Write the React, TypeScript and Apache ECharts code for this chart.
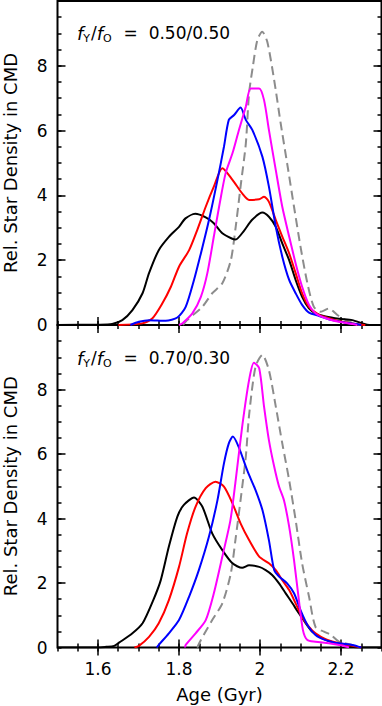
import React, { useEffect, useRef } from "react";
import * as echarts from "echarts";

// ---------- data ----------
const xTicksMajor = [1.6, 1.8, 2.0, 2.2];
const yTicksMajor = [2, 4, 6, 8];
const yLabels = [0, 2, 4, 6, 8];
const seriesNames = ["gray", "black", "red", "blue", "magenta"];
const panelLabels = ["0.50/0.50", "0.70/0.30"];

// Top panel  fY/fO = 0.50/0.50
const black1 = [[1.5,0],[1.6,0.01],[1.635,0.03],[1.66,0.15],[1.685,0.46],[1.71,0.98],[1.726,1.6],[1.75,2.31],[1.775,2.72],[1.8,3.03],[1.816,3.29],[1.84,3.43],[1.866,3.32],[1.886,3.14],[1.907,2.83],[1.93,2.67],[1.94,2.64],[1.96,2.9],[1.98,3.24],[2.006,3.47],[2.022,3.34],[2.039,3.03],[2.055,2.52],[2.072,2.0],[2.088,1.39],[2.104,0.87],[2.121,0.51],[2.137,0.36],[2.162,0.26],[2.195,0.19],[2.228,0.15],[2.253,0.05],[2.27,0],[2.3,0]];
const red1 = [[1.65,0],[1.709,0.05],[1.734,0.2],[1.759,0.67],[1.78,1.18],[1.8,1.8],[1.825,2.31],[1.845,2.93],[1.866,3.65],[1.886,4.27],[1.907,4.84],[1.932,4.48],[1.956,4.06],[1.973,3.86],[1.998,3.88],[2.01,3.96],[2.022,3.8],[2.039,3.24],[2.055,2.73],[2.072,2.21],[2.088,1.6],[2.104,0.98],[2.121,0.56],[2.146,0.31],[2.17,0.21],[2.203,0.1],[2.236,0.03],[2.26,0]];
const blue1 = [[1.68,0],[1.701,0.1],[1.726,0.15],[1.767,0.13],[1.796,0.23],[1.8165,0.56],[1.837,1.39],[1.854,2.21],[1.874,3.24],[1.895,4.48],[1.911,5.5],[1.923,6.33],[1.936,6.48],[1.952,6.71],[1.965,6.33],[1.981,6.02],[2.006,5.19],[2.022,4.27],[2.039,3.03],[2.055,2.11],[2.072,1.39],[2.088,0.98],[2.104,0.62],[2.121,0.38],[2.146,0.28],[2.178,0.15],[2.212,0.07],[2.236,0.03],[2.25,0]];
const magenta1 = [[1.8,0],[1.808,0.05],[1.833,0.36],[1.854,0.87],[1.87,1.6],[1.886,2.73],[1.899,3.65],[1.915,4.68],[1.932,5.3],[1.948,6.02],[1.965,6.74],[1.977,7.3],[1.998,7.3],[2.01,6.94],[2.022,6.02],[2.039,4.78],[2.055,3.65],[2.072,2.73],[2.088,1.9],[2.104,1.18],[2.121,0.62],[2.137,0.36],[2.162,0.21],[2.195,0.1],[2.228,0.03],[2.24,0]];
const gray1 = [[1.81,0],[1.82,0.15],[1.8575,0.56],[1.882,0.98],[1.907,1.29],[1.928,2.0],[1.94,3.03],[1.952,4.27],[1.965,5.6],[1.973,7.15],[1.982,7.95],[1.9935,8.8],[2.0056,9.05],[2.018,8.74],[2.035,7.56],[2.051,6.23],[2.067,4.99],[2.084,3.65],[2.1,2.42],[2.117,1.29],[2.133,0.56],[2.15,0.41],[2.17,0.51],[2.191,0.31],[2.212,0.15],[2.236,0.03],[2.25,0]];

// Bottom panel  fY/fO = 0.70/0.30
const black2 = [[1.5,0],[1.6,0],[1.62,0.02],[1.64,0.05],[1.652,0.15],[1.685,0.44],[1.71,0.75],[1.7365,1.47],[1.755,2.09],[1.775,3.13],[1.796,4.06],[1.812,4.42],[1.837,4.65],[1.8575,4.37],[1.882,3.54],[1.907,3.02],[1.932,2.61],[1.956,2.47],[1.973,2.55],[1.998,2.5],[2.014,2.4],[2.03,2.25],[2.047,1.99],[2.0635,1.68],[2.08,1.37],[2.096,1.06],[2.113,0.75],[2.129,0.49],[2.154,0.28],[2.187,0.13],[2.22,0.05],[2.24,0],[2.3,0]];
const red2 = [[1.69,0],[1.701,0.05],[1.726,0.33],[1.75,0.75],[1.775,1.47],[1.8,2.5],[1.82,3.54],[1.841,4.37],[1.866,4.94],[1.89,5.14],[1.911,4.99],[1.932,4.47],[1.952,3.85],[1.973,3.33],[1.998,2.82],[2.022,2.61],[2.039,2.4],[2.055,2.09],[2.072,1.78],[2.088,1.37],[2.104,0.95],[2.121,0.64],[2.137,0.44],[2.162,0.26],[2.195,0.13],[2.228,0.05],[2.25,0]];
const blue2 = [[1.745,0],[1.75,0.08],[1.775,0.44],[1.8,0.85],[1.825,1.58],[1.849,2.4],[1.874,3.44],[1.895,4.57],[1.911,5.71],[1.923,6.33],[1.933,6.54],[1.948,6.2],[1.965,5.61],[1.973,5.35],[1.989,4.88],[2.006,4.26],[2.022,3.33],[2.035,2.4],[2.047,2.2],[2.067,1.99],[2.084,1.68],[2.1,1.16],[2.117,0.7],[2.137,0.39],[2.162,0.23],[2.195,0.13],[2.228,0.08],[2.25,0]];
const magenta2 = [[1.815,0],[1.8165,0.08],[1.841,0.44],[1.866,0.85],[1.886,1.68],[1.907,2.82],[1.927,3.95],[1.94,5.19],[1.956,6.85],[1.973,8.29],[1.985,8.83],[1.998,8.66],[2.01,7.47],[2.022,6.43],[2.035,5.61],[2.047,4.99],[2.059,4.57],[2.072,3.75],[2.084,2.71],[2.096,1.47],[2.106,0.54],[2.117,0.23],[2.137,0.18],[2.17,0.13],[2.203,0.06],[2.22,0]];
const gray2 = [[1.845,0],[1.854,0.23],[1.882,0.85],[1.907,1.37],[1.928,2.3],[1.94,3.4],[1.952,4.57],[1.965,5.92],[1.973,7.2],[1.989,8.71],[2.006,9.07],[2.022,8.6],[2.039,7.47],[2.055,6.33],[2.072,5.19],[2.088,3.95],[2.104,2.61],[2.121,1.58],[2.137,0.64],[2.158,0.49],[2.175,0.39],[2.195,0.18],[2.228,0.08],[2.24,0]];

const panels = [
  [gray1, black1, red1, blue1, magenta1],
  [gray2, black2, red2, blue2, magenta2],
];

const COLORS: Record<string, string> = {
  gray: "#8c8c8c",
  black: "#000000",
  red: "#ff0000",
  blue: "#0000ff",
  magenta: "#ff00ff",
};

const FONT = "DejaVu Sans";

const isIn = (v: number, list: number[]) => list.some((t) => Math.abs(t - v) < 1e-6);

export default function App() {
  const ref = useRef<HTMLDivElement>(null);
  useEffect(() => {
    if (!ref.current) return;
    const chart = echarts.init(ref.current, null, { renderer: "svg" });
    const grids = [
      { left: 57.5, right: 0.5, top: 1, height: 324 },
      { left: 57.5, right: 0.5, top: 325, height: 322.5 },
    ].map((g) => ({
      ...g, show: true, borderColor: "#000", borderWidth: 2, backgroundColor: "transparent",
      containLabel: false, outerBoundsMode: "none",
    }));

    const xAxes: any[] = [];
    const yAxes: any[] = [];
    const tickStyle = { color: "#000", width: 1.5 };
    for (let p = 0; p < 2; p++) {
      const baseX = {
        gridIndex: p, type: "value", min: 1.5, max: 2.3, interval: 0.05,
        axisLine: { show: false }, splitLine: { show: false },
      };
      // bottom minor (+labels), bottom major, top minor, top major
      xAxes.push({
        ...baseX, position: "bottom",
        axisTick: { inside: true, length: 4, lineStyle: tickStyle },
        axisLabel: p === 1
          ? {
              show: true, color: "#000", fontSize: 17, fontFamily: FONT, margin: 13,
              showMinLabel: false, showMaxLabel: false, interval: 0,
              formatter: (v: number) => (isIn(v, xTicksMajor) ? String(+v.toFixed(2)) : ""),
            }
          : { show: false },
        name: p === 1 ? "Age (Gyr)" : "",
        nameLocation: "middle", nameGap: 38,
        nameTextStyle: { color: "#000", fontSize: 18, fontFamily: FONT },
      });
      xAxes.push({ ...baseX, position: "bottom", axisTick: { inside: true, length: 8, lineStyle: tickStyle, customValues: xTicksMajor }, axisLabel: { show: false } });
      xAxes.push({ ...baseX, position: "top", axisTick: { inside: true, length: 4, lineStyle: tickStyle }, axisLabel: { show: false } });
      xAxes.push({ ...baseX, position: "top", axisTick: { inside: true, length: 8, lineStyle: tickStyle, customValues: xTicksMajor }, axisLabel: { show: false } });

      const baseY = {
        gridIndex: p, type: "value", min: 0, max: 10, interval: 0.5,
        axisLine: { show: false }, splitLine: { show: false },
      };
      yAxes.push({
        ...baseY, position: "left",
        axisTick: { inside: true, length: 4, lineStyle: tickStyle },
        axisLabel: {
          show: true, color: "#000", fontSize: 17, fontFamily: FONT, margin: 10, interval: 0,
          formatter: (v: number) => (isIn(v, yLabels) ? String(Math.round(v)) : ""),
        },
        name: "Rel. Star Density in CMD",
        nameLocation: "middle", nameGap: 38,
        nameTextStyle: { color: "#000", fontSize: 18, fontFamily: FONT },
      });
      yAxes.push({ ...baseY, position: "left", axisTick: { inside: true, length: 8, lineStyle: tickStyle, customValues: yTicksMajor }, axisLabel: { show: false } });
      yAxes.push({ ...baseY, position: "right", axisTick: { inside: true, length: 4, lineStyle: tickStyle }, axisLabel: { show: false } });
      yAxes.push({ ...baseY, position: "right", axisTick: { inside: true, length: 8, lineStyle: tickStyle, customValues: yTicksMajor }, axisLabel: { show: false } });
    }

    const series: any[] = [];
    panels.forEach((arr, p) => {
      arr.forEach((data, i) => {
        const name = seriesNames[i];
        series.push({
          type: "line",
          name: name + (p + 1),
          xAxisIndex: p * 4,
          yAxisIndex: p * 4,
          data,
          showSymbol: false,
          smooth: 0.25,
          clip: true,
          lineStyle: {
            color: COLORS[name],
            width: 2,
            type: name === "gray" ? [9, 5] : "solid",
          },
          z: 2 + i,
        });
      });
    });

    const rich = {
      i: { fontSize: 18, fontStyle: "italic", fontFamily: FONT, color: "#000" },
      s: { fontSize: 11, fontFamily: FONT, color: "#000", padding: [10, 1, 0, 0] },
      n: { fontSize: 17, fontFamily: FONT, color: "#000" },
    };
    const graphic = panelLabels.map((lab, p) => ({
      type: "text",
      left: 77,
      top: p === 0 ? 24 : 349,
      style: {
        text: `{i|f}{s|Y}{n|/}{i|f}{s|O}{n|  =  ${lab}}`,
        rich,
      },
    }));

    chart.setOption({
      animation: false,
      backgroundColor: "#fff",
      grid: grids,
      xAxis: xAxes,
      yAxis: yAxes,
      series,
      graphic,
    });
    return () => chart.dispose();
  }, []);
  return <div ref={ref} style={{ width: 382, height: 706, position: "absolute", left: 0, top: 0 }} />;
}
